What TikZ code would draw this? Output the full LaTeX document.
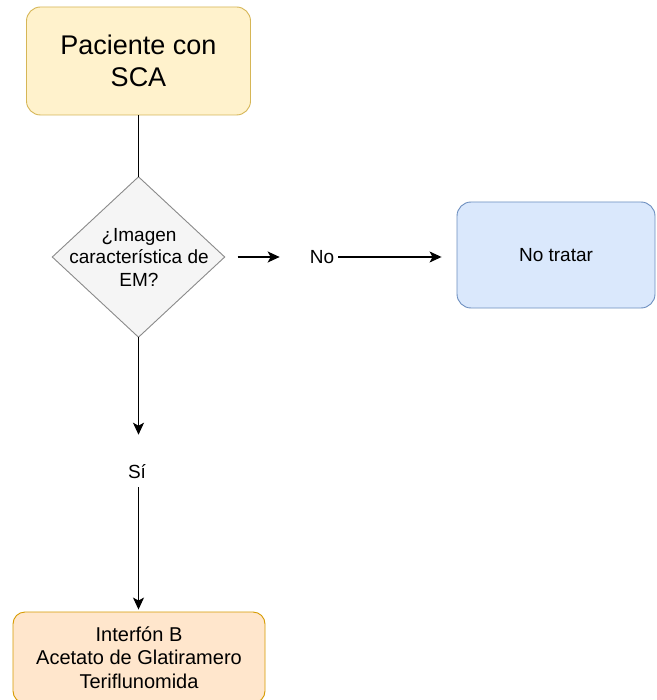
\documentclass[tikz,border=0pt]{standalone}
\usepackage{fontspec}
\setmainfont{Liberation Sans}
\usetikzlibrary{arrows.meta}
\definecolor{yelfill}{HTML}{FFF2CC}
\definecolor{yeldraw}{HTML}{D6B656}
\definecolor{bluefill}{HTML}{DAE8FC}
\definecolor{bluedraw}{HTML}{6C8EBF}
\definecolor{orfill}{HTML}{FFE6CC}
\definecolor{ordraw}{HTML}{D79B00}
\definecolor{grfill}{HTML}{F5F5F5}
\definecolor{grdraw}{HTML}{8A8A8A}
\tikzset{
  boxbase/.style={rectangle, rounded corners=14pt, line width=0.9pt, align=center, inner sep=0pt},
  startbox/.style={boxbase, fill=yelfill, draw=yeldraw, minimum width=224pt, minimum height=108pt, font=\fontsize{27}{32}\selectfont},
  nobox/.style={boxbase, fill=bluefill, draw=bluedraw, minimum width=198pt, minimum height=106pt, font=\fontsize{19}{22}\selectfont},
  treatbox/.style={boxbase, rounded corners=12pt, fill=orfill, draw=ordraw, minimum width=252pt, minimum height=91pt, font=\fontsize{20}{23.5}\selectfont},
  decshape/.style={fill=grfill, draw=grdraw, line width=0.9pt},
  dectext/.style={align=center, inner sep=0pt, font=\fontsize{19}{22.5}\selectfont},
  lbl/.style={inner sep=0pt, font=\fontsize{19}{22}\selectfont},
  conn/.style={line width=1.3pt, black},
  arr/.style={conn, -{Stealth[length=12pt, width=11pt, inset=3pt]}},
}
\begin{document}
\begin{tikzpicture}[x=1pt, y=-1pt]
\clip (0,0) rectangle (656,700);
\fill[white] (0,0) rectangle (656,700);

\node[startbox] (start) at (138.5,61) {Paciente con\\SCA};

\node[minimum width=172pt, minimum height=160pt, inner sep=0pt] (dec) at (138.5,257) {};
\draw[decshape] (dec.north) -- (dec.east) -- (dec.south) -- (dec.west) -- cycle;
\node[dectext] (dect) at (139,257) {¿Imagen\\característica de\\EM?};

\node[lbl] (no) at (322,257) {No};
\node[nobox] (notreat) at (556,255) {No tratar};

\node[lbl] (si) at (137,472) {Sí};
\node[treatbox] (treat) at (139,657.5) {Interfón B\\Acetato de Glatiramero\\Teriflunomida};

\draw[conn] (start.south) -- (dec.north);
\draw[arr, shorten <=13pt, shorten >=30pt] (dec.east) -- (no.west);
\draw[arr, shorten <=4pt, shorten >=15pt] (no.east) -- (no.east -| notreat.west);
\draw[arr, shorten >=30pt] (dec.south) -- (dec.south |- si.north);
\draw[arr, shorten <=8pt, shorten >=2pt] (dec.south |- si.south) -- (dec.south |- treat.north);
\end{tikzpicture}
\end{document}
